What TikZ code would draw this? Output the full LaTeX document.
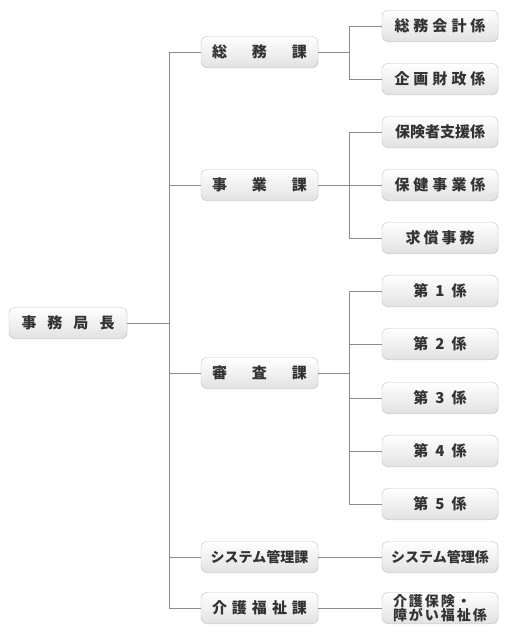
\documentclass[tikz,border=0pt]{standalone}
\usepackage{fontspec}
\newfontfamily\jpfont{Noto Sans CJK JP}
\usetikzlibrary{shadows}
\definecolor{boxline}{HTML}{BEBEBE}
\definecolor{boxlow}{HTML}{E2E2E2}
\definecolor{txt}{HTML}{333333}
\definecolor{conn}{HTML}{8C8C8C}
\newcommand{\gap}[1]{\hspace{#1pt}}
\begin{document}
\begin{tikzpicture}[x=1pt, y=-1pt,
    box/.style={draw=boxline, rounded corners=6pt, top color=white, bottom color=boxlow,
        minimum height=31pt, inner sep=0pt, text=txt, align=center,
        font=\jpfont\bfseries\fontsize{15}{16}\selectfont,
        drop shadow={opacity=0.12, shadow xshift=0.6pt, shadow yshift=-0.8pt}},
    chief/.style={box, minimum width=118pt},
    ka/.style={box, minimum width=117pt},
    kakari/.style={box, minimum width=116pt},
    small/.style={font=\jpfont\bfseries\fontsize{14}{15}\selectfont},
    link/.style={draw=conn, line width=0.8pt}]
    \useasboundingbox (0,0) rectangle (510,635);

    % Draw chief
    \node [chief] (kyoku) at (68,323) {事\gap{11}務\gap{11}局\gap{11}長};

    % Draw sections
    \node [ka] (soumu)  at (259.5,52)  {総\gap{25}務\gap{25}課};
    \node [ka] (jigyo)  at (259.5,185) {事\gap{25}業\gap{25}課};
    \node [ka] (shinsa) at (259.5,373) {審\gap{25}査\gap{25}課};
    \node [ka, small] (system) at (259.5,557) {システム管理課};
    \node [ka] (kaigo)  at (259.5,608) {介\gap{5}護\gap{5}福\gap{5}祉\gap{5}課};

    % Draw units
    \node [kakari] (kaikei) at (440,26)  {総\gap{4}務\gap{4}会\gap{4}計\gap{4}係};
    \node [kakari] (zaisei) at (440,79)  {企\gap{4}画\gap{4}財\gap{4}政\gap{4}係};
    \node [kakari] (shien)  at (440,132) {保険者支援係};
    \node [kakari] (hoken)  at (440,185) {保\gap{4}健\gap{4}事\gap{4}業\gap{4}係};
    \node [kakari] (kyusho) at (440,238) {求\gap{3}償\gap{3}事\gap{3}務};
    \node [kakari] (dai1)   at (440,291) {第\gap{7}1\gap{7}係};
    \node [kakari] (dai2)   at (440,344) {第\gap{7}2\gap{7}係};
    \node [kakari] (dai3)   at (440,398) {第\gap{7}3\gap{7}係};
    \node [kakari] (dai4)   at (440,451) {第\gap{7}4\gap{7}係};
    \node [kakari] (dai5)   at (440,504) {第\gap{7}5\gap{7}係};
    \node [kakari, small] (sysk) at (440,557) {システム管理係};
    \node [kakari, font=\jpfont\bfseries\fontsize{14}{13}\selectfont, align=left]
        (shogai) at (440,608) {介\gap{2}護\gap{2}保\gap{2}険\gap{2}・\\障\gap{2}が\gap{2}い\gap{2}福\gap{2}祉\gap{2}係};

    % Branch points
    \coordinate (trunk) at (169,323);
    \coordinate (brs) at (349,52);
    \coordinate (brj) at (349,185);
    \coordinate (brh) at (349,373);

    % Draw connectors
    \draw [link] (kyoku.east) -- (trunk);
    \foreach \k in {soumu,jigyo,shinsa,system,kaigo}
        \draw [link] (\k.west) -| (trunk);
    \draw [link] (soumu.east) -- (brs);
    \foreach \k in {kaikei,zaisei}
        \draw [link] (\k.west) -| (brs);
    \draw [link] (jigyo.east) -- (brj);
    \foreach \k in {shien,hoken,kyusho}
        \draw [link] (\k.west) -| (brj);
    \draw [link] (shinsa.east) -- (brh);
    \foreach \k in {dai1,dai2,dai3,dai4,dai5}
        \draw [link] (\k.west) -| (brh);
    \draw [link] (system.east) -- (sysk.west);
    \draw [link] (kaigo.east) -- (shogai.west);
\end{tikzpicture}
\end{document}
